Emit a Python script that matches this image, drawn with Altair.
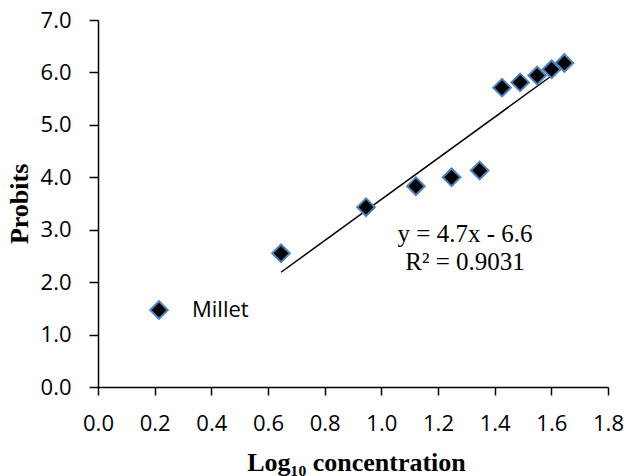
import altair as alt
import pandas as pd

# Data
log_conc = [0.646, 0.946, 1.122, 1.248, 1.347, 1.426, 1.490, 1.550, 1.601, 1.646]
probits = [2.55, 3.43, 3.83, 4.00, 4.13, 5.71, 5.81, 5.94, 6.06, 6.18]
series_name = "Millet"
eq_lines = ["y = 4.7x - 6.6", "R² = 0.9031"]

df = pd.DataFrame({"x": log_conc, "y": probits, "series": [series_name] * len(log_conc)})
eq_df = pd.DataFrame({"label": ["\n".join(eq_lines)]})

x_enc = alt.X(
    "x:Q",
    scale=alt.Scale(domain=[0, 1.8], nice=False, zero=True),
    axis=alt.Axis(
        title="Log₁₀ concentration",
        values=[0, 0.2, 0.4, 0.6, 0.8, 1.0, 1.2, 1.4, 1.6, 1.8],
        format=".1f",
        grid=False,
        tickSize=8,
        labelPadding=18,
        labelFlush=False,
        labelOverlap=False,
        titleX=258,
        titleY=83,
        titleBaseline="alphabetic",
        titleAlign="center",
    ),
)
y_enc = alt.Y(
    "y:Q",
    scale=alt.Scale(domain=[0, 7], nice=False),
    axis=alt.Axis(
        title="Probits",
        values=[0, 1, 2, 3, 4, 5, 6, 7],
        format=".1f",
        grid=False,
        tickSize=9,
        labelPadding=18,
        labelFlush=False,
        labelOverlap=False,
        titleX=-71,
        titleY=183.4,
        titleAngle=270,
        titleBaseline="alphabetic",
        titleAlign="center",
    ),
)

trend = (
    alt.Chart(df)
    .transform_regression("x", "y")
    .mark_line(color="black", strokeWidth=1.5)
    .encode(x=x_enc, y=y_enc)
)

points = (
    alt.Chart(df)
    .mark_point(shape="diamond", filled=True, size=310, stroke="#4F81BD", strokeWidth=2, opacity=1)
    .encode(
        x=x_enc,
        y=y_enc,
        fill=alt.Fill(
            "series:N",
            scale=alt.Scale(domain=[series_name], range=["black"]),
            legend=alt.Legend(
                title=None,
                orient="none",
                legendX=50,
                legendY=279,
                symbolType="diamond",
                symbolSize=310,
                symbolStrokeColor="#4F81BD",
                symbolStrokeWidth=2,
                labelFont="Open Sans",
                labelFontSize=22,
                labelColor="black",
                labelOffset=22,
                padding=0,
            ),
        ),
    )
)

eq = (
    alt.Chart(eq_df)
    .mark_text(
        font="Liberation Serif",
        fontSize=25,
        color="black",
        align="center",
        baseline="alphabetic",
        lineBreak="\n",
        lineHeight=28,
    )
    .encode(text="label:N", x=alt.value(367), y=alt.value(221.7))
)

chart = (
    alt.layer(trend, points, eq)
    .properties(
        width=510,
        height=367,
        autosize=alt.AutoSizeParams(type="none"),
        padding={"left": 90, "top": 12, "right": 16, "bottom": 89},
    )
    .configure_view(stroke=None)
    .configure_axis(
        domainColor="black",
        domainWidth=1.5,
        tickColor="black",
        tickWidth=1.5,
        labelFont="Open Sans",
        labelFontSize=22,
        labelColor="black",
        titleFont="Liberation Serif",
        titleFontSize=26,
        titleFontWeight="bold",
        titleColor="black",
    )
)

chart.save("out.html", embed_options={"renderer": "svg", "actions": False})
